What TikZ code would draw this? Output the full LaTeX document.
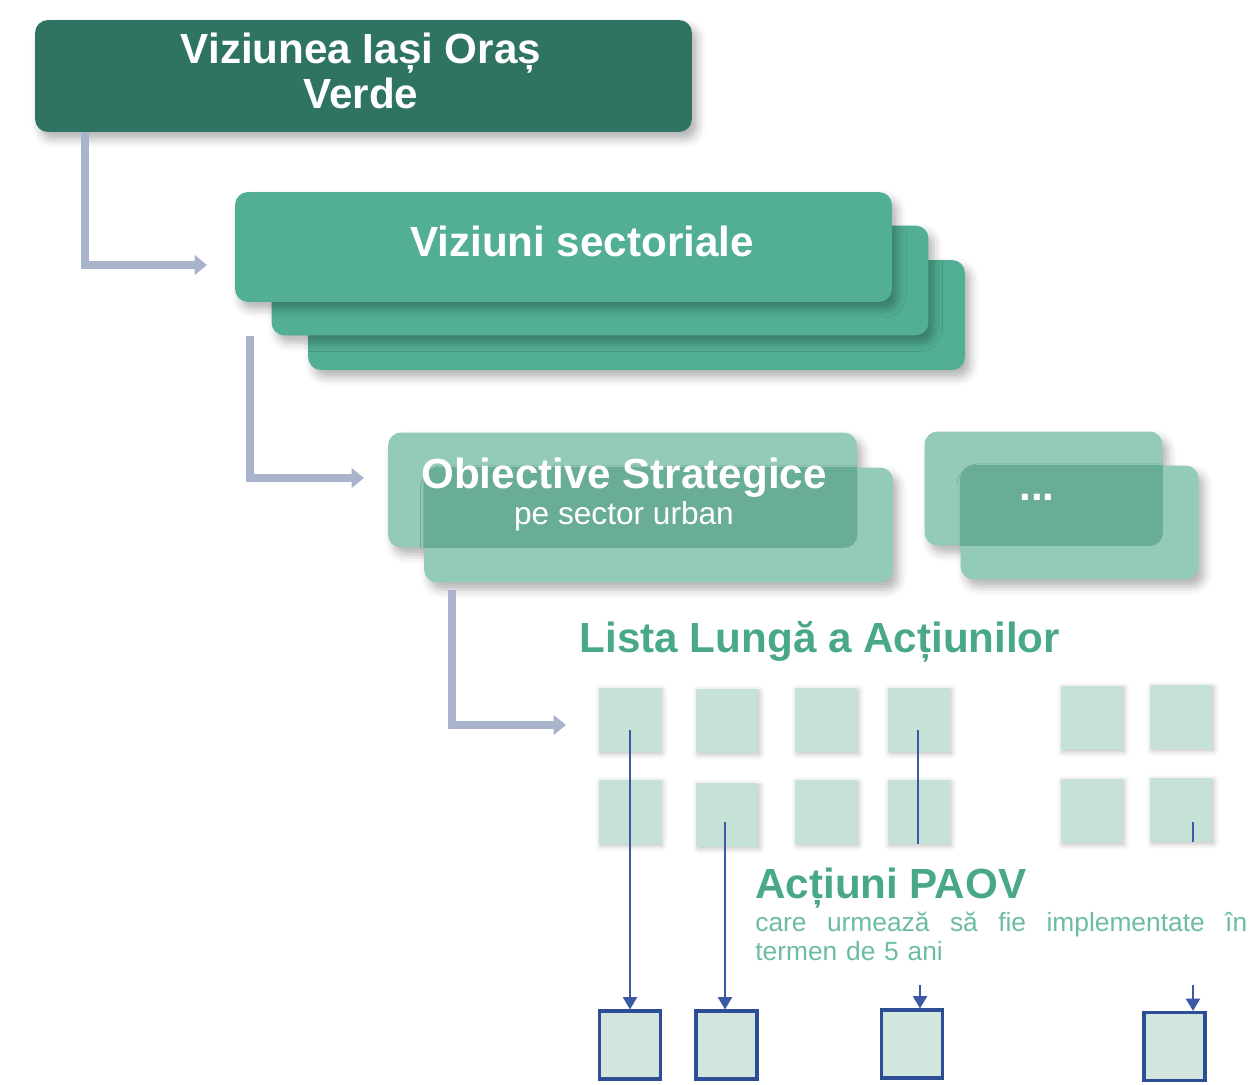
\documentclass[tikz,border=0pt]{standalone}
\usepackage{fontspec}
\setmainfont{Liberation Sans}
\usetikzlibrary{arrows.meta,shadows.blur}
\definecolor{darkgreen}{HTML}{2F7363}
\definecolor{midgreen}{HTML}{52AF95}
\definecolor{objlight}{HTML}{93CAB8}
\definecolor{objdark}{HTML}{6AAD97}
\definecolor{sqgreen}{HTML}{C6E1D6}
\definecolor{txtgreen}{HTML}{48A888}
\definecolor{subgreen}{HTML}{6CBDA0}
\definecolor{connGray}{HTML}{A9B3CB}
\definecolor{lineBlue}{HTML}{3B59A4}
\definecolor{boxBlue}{HTML}{2E4D97}
\definecolor{botfill}{HTML}{D2E6DD}
\begin{document}
\begin{tikzpicture}[x=0.02cm,y=-0.02cm,
  shade/.style={blur shadow={shadow xshift=3pt,shadow yshift=-4pt,shadow blur radius=5pt,shadow opacity=30}},
  bigbox/.style={rounded corners=0.26cm,inner sep=0,shade},
  topbox/.style={bigbox,fill=darkgreen,minimum width=13.14cm,minimum height=2.24cm},
  vizbox/.style={bigbox,fill=midgreen,minimum width=13.14cm,minimum height=2.2cm},
  objbox/.style={bigbox,fill=objlight,minimum width=9.38cm,minimum height=2.3cm},
  dotbox/.style={bigbox,fill=objlight,minimum width=4.76cm,minimum height=2.28cm},
  overlap/.style={fill=objdark,rounded corners=0.26cm},
  smallsq/.style={fill=sqgreen,inner sep=0,minimum width=1.24cm,minimum height=1.28cm,
    blur shadow={shadow xshift=1pt,shadow yshift=-1pt,shadow blur radius=3pt,shadow opacity=25}},
  botsq/.style={fill=botfill,draw=boxBlue,line width=1.8pt,inner sep=0,minimum width=1.22cm,minimum height=1.36cm},
  bigtxt/.style={text=white,font=\fontsize{24}{26}\selectfont\bfseries,inner sep=0},
  conn/.style={draw=connGray,line width=4.5pt,-{Triangle[length=7pt,width=11pt]}},
  blueline/.style={draw=lineBlue,line width=1.2pt},
  bluearrow/.style={blueline,-{Triangle[length=7pt,width=8pt]}}
]
\useasboundingbox (0,0) rectangle (1258,1085);

% top box
\node[topbox] (top) at (363.5,76) {};
\node[bigtxt,align=center] (toptxt) at (361,71) {Viziunea Iași Oraș\\Verde};

% sector vision stack
\node[vizbox] (viz3) at (636.5,315) {};
\node[vizbox] (viz2) at (600,280.5) {};
\node[vizbox] (viz1) at (563.5,247) {};
\node[bigtxt,anchor=base] (viztxt) at (582,256) {Viziuni sectoriale};

% objectives
\node[objbox] (objback) at (622.5,490) {};
\node[objbox] (objfront) at (658.5,525) {};
\begin{scope}
  \clip[rounded corners=0.26cm] (objback.south west) rectangle (objback.north east);
  \path[overlap] (objfront.south west) rectangle (objfront.north east);
\end{scope}
\node[bigtxt,anchor=base] (objtxt) at (624,488) {Obiective Strategice};
\node[text=white,font=\fontsize{18}{20}\selectfont,inner sep=0,anchor=base] (objsub) at (624,524) {pe sector urban};

\node[dotbox] (dotback) at (1043.5,488.5) {};
\node[dotbox] (dotfront) at (1079.5,522.5) {};
\begin{scope}
  \clip[rounded corners=0.26cm] (dotback.south west) rectangle (dotback.north east);
  \path[overlap] (dotfront.south west) rectangle (dotfront.north east);
\end{scope}
\node[bigtxt,anchor=base] (dots) at (1037,500) {...};

% connectors
\coordinate (k1) at (85,0);
\coordinate (a1) at (207,265);
\draw[conn] (top.south -| k1) |- (a1);
\coordinate (k2) at (250,0);
\coordinate (a2) at (364,478);
\draw[conn] (viz2.south -| k2) |- (a2);
\coordinate (s3) at (452,590);
\coordinate (a3) at (566,725);
\draw[conn] (s3) |- (a3);

% long list
\node[text=txtgreen,font=\fontsize{24}{26}\selectfont\bfseries,inner sep=0,anchor=base] (lista) at (820,652) {Lista Lungă a Acțiunilor};

\node[smallsq] (q11) at (629.5,720) {};
\node[smallsq] (q12) at (727,721) {};
\node[smallsq] (q13) at (826,720) {};
\node[smallsq] (q14) at (918.5,720) {};
\node[smallsq] (q15) at (1091.5,718) {};
\node[smallsq] (q16) at (1181,717) {};
\node[smallsq] (q21) at (629.5,812) {};
\node[smallsq] (q22) at (727,815) {};
\node[smallsq] (q23) at (826,812) {};
\node[smallsq] (q24) at (918.5,812) {};
\node[smallsq] (q25) at (1091.5,811) {};
\node[smallsq] (q26) at (1181,810) {};

% PAOV text
\node[text=txtgreen,font=\fontsize{24}{26}\selectfont\bfseries,inner sep=0,anchor=base west] (paov) at (755,898) {Acțiuni PAOV};
\node[text=subgreen,font=\fontsize{15}{17}\selectfont,inner sep=0,anchor=base west,text width=9.84cm,align=left] (paovsub) at (755,931)
  {care\hfill urmează\hfill să\hfill fie\hfill implementate\hfill în\\termen de 5 ani};

% bottom squares
\node[botsq] (b1) at (630,1045) {};
\node[botsq] (b2) at (726.5,1045) {};
\node[botsq] (b3) at (912,1044) {};
\node[botsq] (b4) at (1174.5,1046.5) {};

% blue lines
\coordinate (l1) at (630,730);
\draw[bluearrow] (l1) -- (l1 |- b1.north);
\coordinate (l2) at (725,822);
\draw[bluearrow] (l2) -- (l2 |- b2.north);
\coordinate (l3) at (918,730);
\draw[blueline] (l3) -- (l3 |- q24.south);
\coordinate (l3b) at (920,985);
\draw[bluearrow] (l3b) -- (l3b |- b3.north);
\coordinate (l4) at (1193,822);
\draw[blueline] (l4) -- (l4 |- q26.south);
\coordinate (l4b) at (1193,985);
\draw[bluearrow] (l4b) -- (l4b |- b4.north);
\end{tikzpicture}
\end{document}
